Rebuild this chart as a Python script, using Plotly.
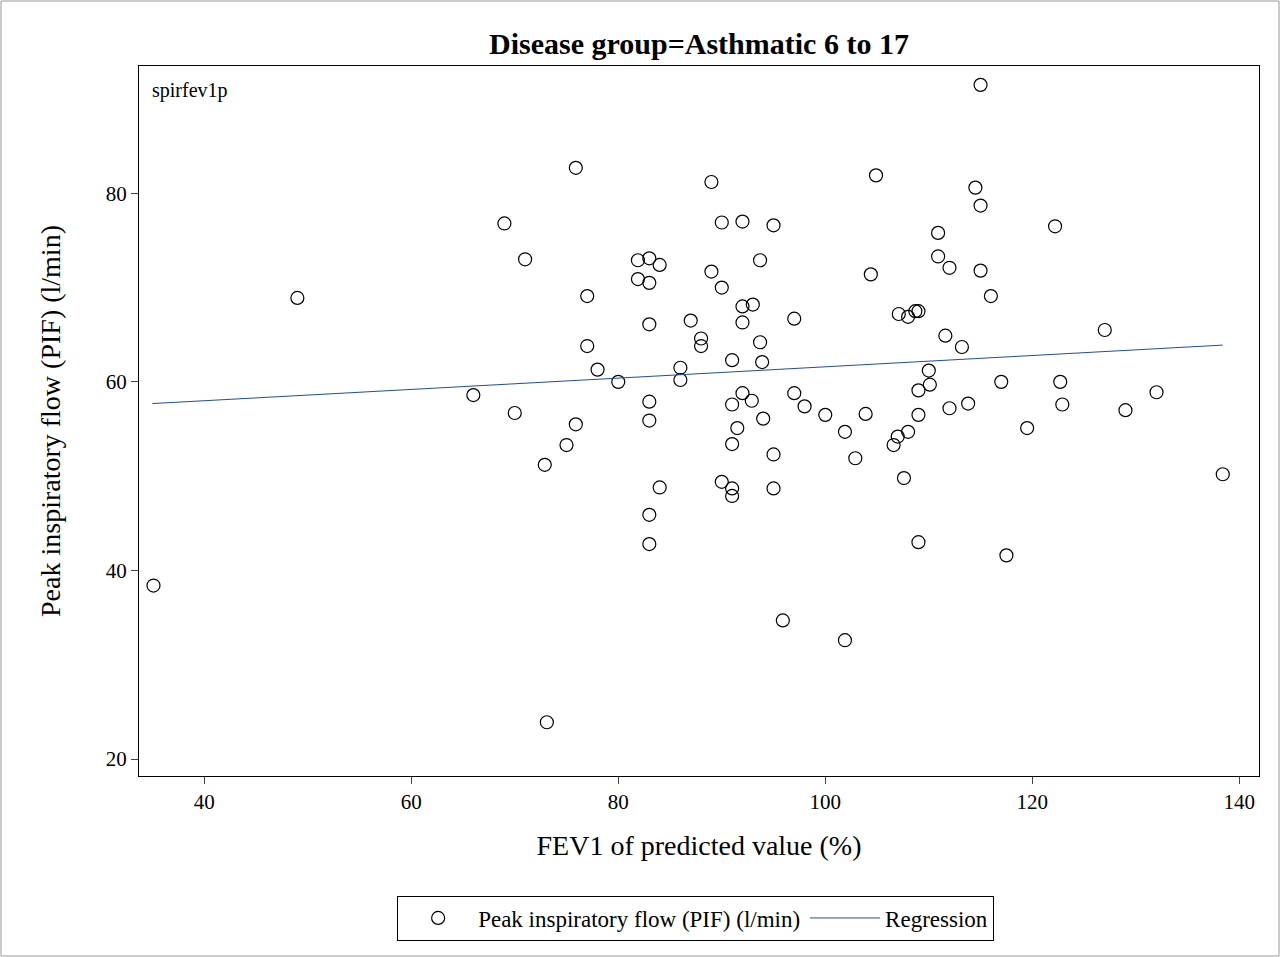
import plotly.graph_objects as go

fev1 = [35.1,49.0,66.0,69.0,70.0,71.0,72.9,73.1,75.0,75.9,75.9,77.0,77.0,78.0,80.0,81.9,81.9,
        83.0,83.0,83.0,83.0,83.0,83.0,83.0,84.0,84.0,86.0,86.0,87.0,88.0,88.0,89.0,89.0,
        90.0,90.0,90.0,91.0,91.0,91.0,91.0,91.0,91.5,92.0,92.0,92.0,92.0,92.9,93.0,93.7,93.7,
        93.9,94.0,95.0,95.0,95.0,95.9,97.0,97.0,98.0,100.0,101.9,101.9,102.9,103.9,104.4,104.9,
        106.6,107.0,107.1,107.6,108.0,108.0,108.7,109.0,109.0,109.0,109.0,110.0,110.1,110.9,110.9,
        111.6,112.0,112.0,113.2,113.8,114.5,115.0,115.0,115.0,116.0,117.0,117.5,119.5,122.2,122.7,
        122.9,127.0,129.0,132.0,138.4]
pif = [38.4,68.9,58.6,76.8,56.7,73.0,51.2,23.9,53.3,82.7,55.5,69.1,63.8,61.3,60.0,72.9,70.9,
       73.1,70.5,66.1,57.9,55.9,45.9,42.8,72.4,48.8,61.5,60.2,66.5,64.6,63.8,81.2,71.7,
       76.9,70.0,49.4,62.3,57.6,53.4,48.7,47.9,55.1,77.0,68.0,66.3,58.8,58.0,68.2,72.9,64.2,
       62.1,56.1,76.6,52.3,48.7,34.7,66.7,58.8,57.4,56.5,54.7,32.6,51.9,56.6,71.4,81.9,
       53.3,54.2,67.2,49.8,66.9,54.7,67.5,67.5,59.1,56.5,43.0,61.2,59.7,75.8,73.3,
       64.9,72.1,57.2,63.7,57.7,80.6,91.5,78.7,71.8,69.1,60.0,41.6,55.1,76.5,60.0,
       57.6,65.5,57.0,58.9,50.2]
reg_x = [35.0, 138.4]
reg_y = [57.7, 63.9]

F = "Liberation Serif"
fig = go.Figure()
fig.add_trace(go.Scatter(x=fev1, y=pif, mode="markers", name="Peak inspiratory flow (PIF) (l/min)",
    marker=dict(symbol="circle-open", size=13, color="black", line=dict(width=1.2))))
fig.add_trace(go.Scatter(x=reg_x, y=reg_y, mode="lines", name="Regression",
    line=dict(color="#1f4e9a", width=1)))
fig.update_layout(
    width=1280, height=957, paper_bgcolor="white", plot_bgcolor="white",
    margin=dict(l=139, r=21, t=66, b=181),
    font=dict(family=F, size=21, color="black"),
    title=dict(text="<b>Disease group=Asthmatic 6 to 17</b>", xref="paper", x=0.5, xanchor="center",
               y=1-43/957, yanchor="middle", font=dict(size=30)),
    xaxis=dict(range=[33.7, 141.9], tickvals=[40,60,80,100,120,140], showgrid=False, zeroline=False,
               showline=True, linecolor="black", mirror=True, ticks="outside", ticklen=7,
               title=dict(text="FEV1 of predicted value (%)", font=dict(size=28), standoff=22)),
    yaxis=dict(range=[18.2, 93.5], tickvals=[20,40,60,80], showgrid=False, zeroline=False,
               showline=True, linecolor="black", mirror=True, ticks="outside", ticklen=7,
               title=dict(text="Peak inspiratory flow (PIF) (l/min)", font=dict(size=28), standoff=36)),
    legend=dict(orientation="h", x=0.497, xanchor="center", y=-0.2, yanchor="middle",
                bordercolor="black", borderwidth=1, font=dict(size=23), itemwidth=70),
    annotations=[dict(text="spirfev1p", xref="paper", yref="paper", x=0.01, y=0.985,
                      xanchor="left", yanchor="top", showarrow=False, font=dict(size=20))],
    shapes=[dict(type="rect", xref="paper", yref="paper", x0=-138/1120, x1=1+20/1120,
                 y0=-180/710, y1=1+65/710, line=dict(color="#999999", width=1))],
)
fig.write_html("out.html", config={"displayModeBar": False},
               post_script="document.body.style.margin='0';document.body.style.overflow='hidden';")
